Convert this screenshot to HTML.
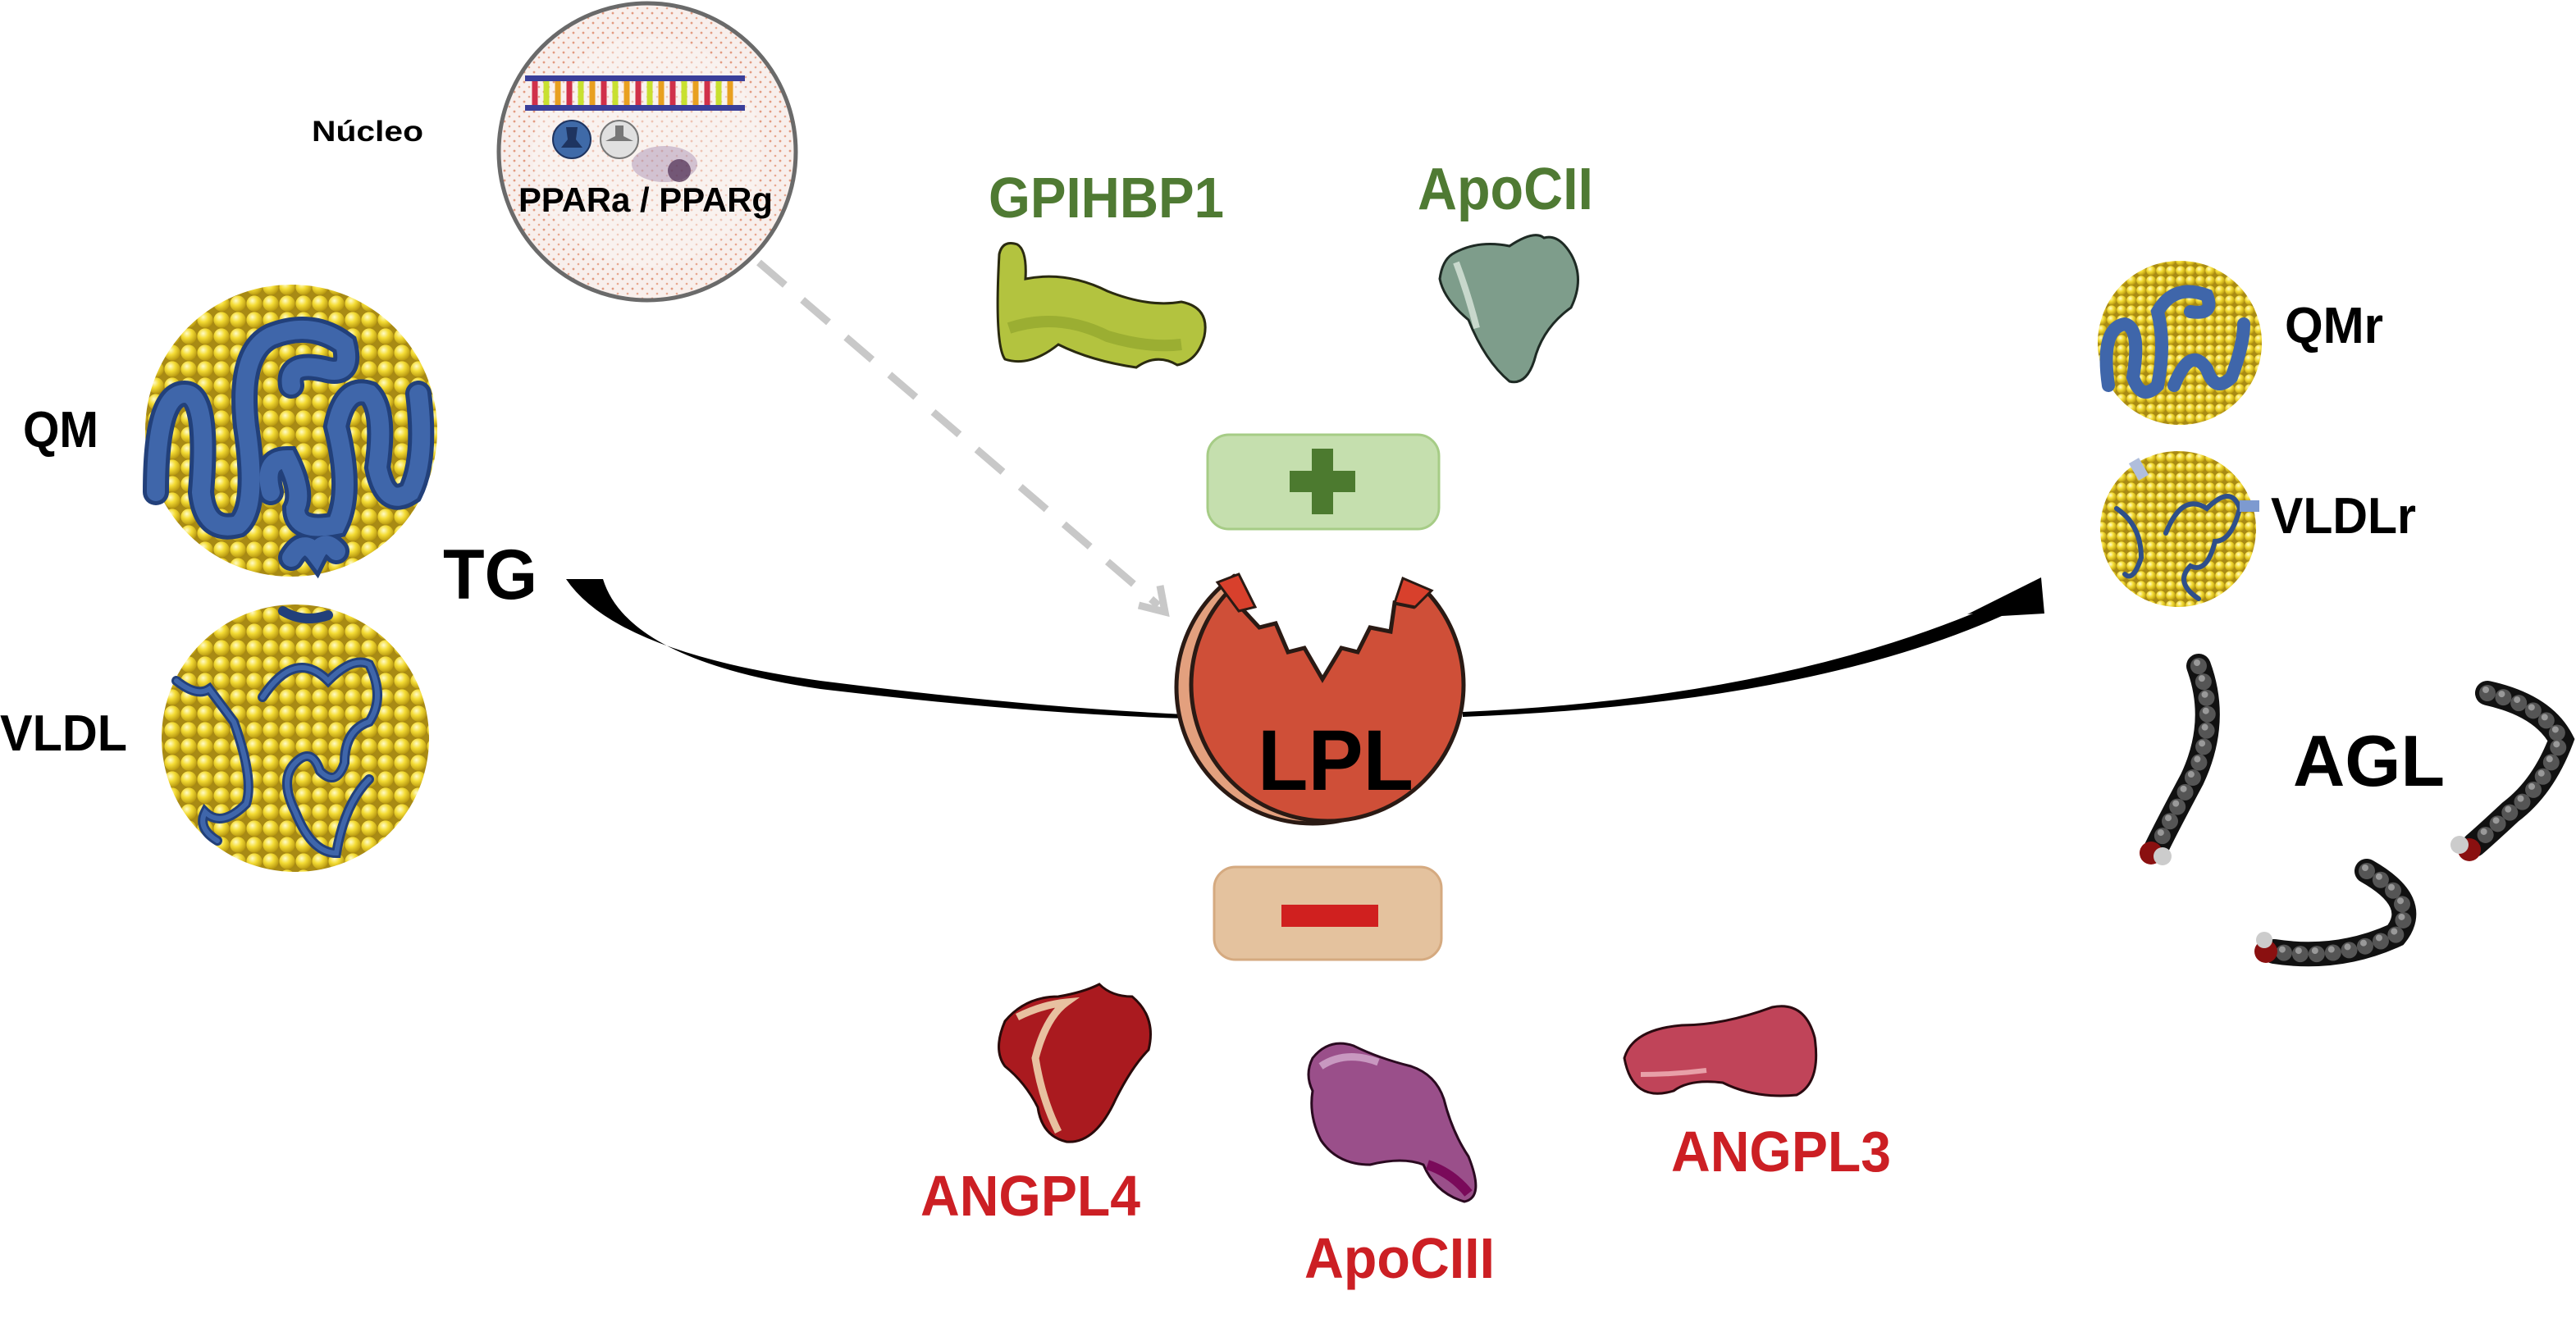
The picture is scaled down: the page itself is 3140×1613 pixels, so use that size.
<!DOCTYPE html>
<html><head><meta charset="utf-8"><style>html,body{margin:0;padding:0;background:#fff}svg{display:block}text{font-family:"Liberation Sans",Arial,sans-serif;font-weight:bold}</style></head>
<body>
<svg width="3140" height="1613" viewBox="0 0 3140 1613" xmlns="http://www.w3.org/2000/svg">
<defs>
<radialGradient id="ball" cx="38%" cy="32%" r="70%"><stop offset="0" stop-color="#fffbc8"/><stop offset="0.45" stop-color="#f4dc34"/><stop offset="1" stop-color="#b89810"/></radialGradient>
<pattern id="bp" width="20" height="20" patternUnits="userSpaceOnUse"><rect width="20" height="20" fill="#a88a14"/><circle cx="10" cy="10" r="9.6" fill="url(#ball)"/></pattern>
<pattern id="bps" width="12" height="12" patternUnits="userSpaceOnUse"><rect width="12" height="12" fill="#a88a14"/><circle cx="6" cy="6" r="5.8" fill="url(#ball)"/></pattern>
<pattern id="speck" width="12" height="12" patternUnits="userSpaceOnUse"><rect width="12" height="12" fill="#f8efec"/><circle cx="3" cy="4" r="1.4" fill="#e29a80"/><circle cx="9" cy="10" r="1.3" fill="#e8a78f"/></pattern>
<radialGradient id="bead" cx="40%" cy="35%" r="70%"><stop offset="0" stop-color="#9a9a9a"/><stop offset="0.5" stop-color="#333"/><stop offset="1" stop-color="#050505"/></radialGradient>
<clipPath id="lplclip"><polygon points="1400,600 1505,700 1510,738 1535,765 1555,760 1570,795 1590,790 1612,828 1635,790 1655,795 1670,765 1695,770 1700,735 1725,740 1800,600 1800,1100 1400,1100"/></clipPath>
</defs>

<circle cx="789" cy="185" r="181" fill="url(#speck)" stroke="#6a6a6a" stroke-width="5"/>
<circle cx="789" cy="185" r="140" fill="#fbf6f4" opacity="0.45"/>
<rect x="640" y="92" width="268" height="7" fill="#3a3f9a"/>
<rect x="640" y="128" width="268" height="7" fill="#3a3f9a"/>
<g stroke-width="7">
<line x1="652" y1="99" x2="652" y2="128" stroke="#d0304a"/><line x1="666" y1="99" x2="666" y2="128" stroke="#c8e030"/><line x1="680" y1="99" x2="680" y2="128" stroke="#e8a020"/><line x1="694" y1="99" x2="694" y2="128" stroke="#d0304a"/><line x1="708" y1="99" x2="708" y2="128" stroke="#c8e030"/><line x1="722" y1="99" x2="722" y2="128" stroke="#e8a020"/><line x1="736" y1="99" x2="736" y2="128" stroke="#d0304a"/><line x1="750" y1="99" x2="750" y2="128" stroke="#c8e030"/><line x1="764" y1="99" x2="764" y2="128" stroke="#e8a020"/><line x1="778" y1="99" x2="778" y2="128" stroke="#d0304a"/><line x1="792" y1="99" x2="792" y2="128" stroke="#c8e030"/><line x1="806" y1="99" x2="806" y2="128" stroke="#e8a020"/><line x1="820" y1="99" x2="820" y2="128" stroke="#d0304a"/><line x1="834" y1="99" x2="834" y2="128" stroke="#c8e030"/><line x1="848" y1="99" x2="848" y2="128" stroke="#e8a020"/><line x1="862" y1="99" x2="862" y2="128" stroke="#d0304a"/><line x1="876" y1="99" x2="876" y2="128" stroke="#c8e030"/><line x1="890" y1="99" x2="890" y2="128" stroke="#e8a020"/>
</g>
<circle cx="697" cy="170" r="23" fill="#3f6aa8" stroke="#1e3460" stroke-width="2"/>
<path d="M690,155 L704,155 L702,170 L710,180 L684,180 L692,170Z" fill="#1e3460"/>
<circle cx="755" cy="170" r="23" fill="#e0e0e0" stroke="#777" stroke-width="2"/>
<path d="M750,153 L760,153 L760,166 L772,172 L738,172 L750,166Z" fill="#777"/>
<ellipse cx="810" cy="200" rx="40" ry="22" fill="#8a6a9a" opacity="0.35"/>
<circle cx="828" cy="208" r="14" fill="#4a2a50" opacity="0.7"/>
<text x="632" y="258" font-size="42" textLength="310" lengthAdjust="spacingAndGlyphs">PPARa / PPARg</text>
<text x="380" y="172" font-size="35" textLength="136" lengthAdjust="spacingAndGlyphs">Núcleo</text>

<line x1="925" y1="320" x2="1412" y2="738" stroke="#c8c8c8" stroke-width="9" stroke-dasharray="42 28"/>
<polyline points="1388,738 1420,746 1414,714" fill="none" stroke="#c8c8c8" stroke-width="9"/>

<circle cx="355" cy="525" r="178" fill="url(#bp)"/>
<g fill="none" stroke="#22407a" stroke-width="32" stroke-linecap="round">
<path d="M190,600 Q190,480 225,480 Q255,480 245,600 Q250,650 290,640 Q315,620 300,520 Q290,430 330,410 Q380,390 420,420 Q430,460 395,450 Q350,440 355,470"/>
<path d="M330,600 Q320,560 350,560 Q370,600 360,620 Q360,650 410,640 Q430,600 410,520 Q420,470 450,480 Q470,500 460,570 Q470,620 500,600 Q520,560 510,480"/>
<path d="M355,680 Q370,655 385,675 Q395,655 410,672"/>
</g>
<g fill="none" stroke="#3f66aa" stroke-width="22" stroke-linecap="round">
<path d="M190,600 Q190,480 225,480 Q255,480 245,600 Q250,650 290,640 Q315,620 300,520 Q290,430 330,410 Q380,390 420,420 Q430,460 395,450 Q350,440 355,470"/>
<path d="M330,600 Q320,560 350,560 Q370,600 360,620 Q360,650 410,640 Q430,600 410,520 Q420,470 450,480 Q470,500 460,570 Q470,620 500,600 Q520,560 510,480"/>
<path d="M355,680 Q370,655 385,675 Q395,655 410,672"/>
</g>

<circle cx="360" cy="900" r="163" fill="url(#bp)"/>
<g fill="none" stroke="#22407a" stroke-width="12" stroke-linecap="round">
<path d="M215,830 Q240,850 255,840 Q270,860 285,880 Q310,950 300,980 Q270,1010 250,990 Q240,1010 265,1025"/>
<path d="M320,850 Q360,790 400,830 Q430,800 450,810 Q470,850 450,880 Q420,890 420,930 Q410,960 390,940 Q380,910 360,930 Q340,950 360,990 Q380,1040 410,1040 Q420,980 450,950"/>
<path d="M345,745 Q370,760 400,750"/>
</g>
<g fill="none" stroke="#3f66aa" stroke-width="6" stroke-linecap="round">
<path d="M215,830 Q240,850 255,840 Q270,860 285,880 Q310,950 300,980 Q270,1010 250,990 Q240,1010 265,1025"/>
<path d="M320,850 Q360,790 400,830 Q430,800 450,810 Q470,850 450,880 Q420,890 420,930 Q410,960 390,940 Q380,910 360,930 Q340,950 360,990 Q380,1040 410,1040 Q420,980 450,950"/>
</g>

<text x="28" y="545" font-size="62" textLength="92" lengthAdjust="spacingAndGlyphs">QM</text>
<text x="0" y="915" font-size="62" textLength="155" lengthAdjust="spacingAndGlyphs">VLDL</text>
<text x="540" y="730" font-size="86" textLength="115" lengthAdjust="spacingAndGlyphs">TG</text>

<path d="M690,706 L735,706 Q765,805 1000,840 Q1250,870 1445,876 L1445,871 Q1250,862 1000,830 Q750,795 690,706Z" fill="#000"/>
<path d="M1783,868 Q2150,852 2405,748 L2398,749 L2488,704 L2492,748 L2440,751 Q2200,858 1783,874Z" fill="#000"/>

<rect x="1472" y="530" width="282" height="115" rx="26" fill="#c5dfae" stroke="#a6cc86" stroke-width="3"/>
<rect x="1572" y="574" width="80" height="26" fill="#4c7a2f"/>
<rect x="1599" y="547" width="26" height="80" fill="#4c7a2f"/>
<rect x="1480" y="1057" width="277" height="113" rx="26" fill="#e4c29e" stroke="#d5aa80" stroke-width="3"/>
<rect x="1562" y="1103" width="118" height="27" fill="#d0201f"/>

<g clip-path="url(#lplclip)">
<circle cx="1600" cy="838" r="166" fill="#e3a07e" stroke="#2a1a14" stroke-width="5"/>
<circle cx="1618" cy="835" r="166" fill="#cf4f38" stroke="#2a1a14" stroke-width="5"/>
</g>
<polyline points="1505,700 1510,738 1535,765 1555,760 1570,795 1590,790 1612,828 1635,790 1655,795 1670,765 1695,770 1700,735 1725,740" fill="none" stroke="#2a1a14" stroke-width="5"/>
<polygon points="1484,710 1510,700 1530,740 1510,745" fill="#d8402c" stroke="#2a1a14" stroke-width="3"/>
<polygon points="1700,735 1710,705 1745,720 1725,740" fill="#d8402c" stroke="#2a1a14" stroke-width="3"/>
<text x="1533" y="963" font-size="105" textLength="190" lengthAdjust="spacingAndGlyphs">LPL</text>

<text x="1205" y="265" font-size="70" fill="#4f7a33" textLength="287" lengthAdjust="spacingAndGlyphs">GPIHBP1</text>
<path d="M1218,310 Q1222,292 1240,298 Q1252,305 1250,340 Q1300,330 1350,355 Q1400,375 1440,368 Q1475,375 1468,410 Q1460,440 1435,445 Q1410,430 1385,448 Q1330,440 1290,420 Q1255,448 1225,438 Q1212,420 1218,310Z" fill="#b3c33f" stroke="#2a2a10" stroke-width="3"/>
<path d="M1230,400 Q1290,380 1350,410 Q1400,425 1440,420" fill="none" stroke="#8aa02a" stroke-width="14" opacity="0.6"/>
<text x="1728" y="255" font-size="72" fill="#4f7a33" textLength="214" lengthAdjust="spacingAndGlyphs">ApoCII</text>
<path d="M1770,310 Q1800,292 1840,300 Q1870,280 1882,290 Q1900,285 1915,310 Q1932,340 1915,375 Q1880,400 1870,440 Q1860,470 1840,465 Q1810,440 1790,390 Q1760,365 1755,340 Q1758,318 1770,310Z" fill="#7e9d8b" stroke="#1e2a24" stroke-width="3"/>
<path d="M1775,320 Q1790,360 1800,400" fill="none" stroke="#c8d8cc" stroke-width="8"/>

<circle cx="2657" cy="418" r="100" fill="url(#bps)"/>
<g fill="none" stroke="#3f66aa" stroke-width="16" stroke-linecap="round">
<path d="M2570,470 Q2560,400 2590,395 Q2610,400 2600,460 Q2610,490 2630,470 Q2640,420 2630,380 Q2650,345 2690,360 Q2700,385 2670,380"/>
<path d="M2650,470 Q2670,420 2690,450 Q2700,480 2720,460 Q2735,420 2735,395"/>
</g>
<circle cx="2655" cy="645" r="95" fill="url(#bps)"/>
<g fill="none" stroke="#2e4f8a" stroke-width="6" stroke-linecap="round">
<path d="M2580,620 Q2610,640 2610,680 Q2600,710 2590,700"/>
<path d="M2640,650 Q2660,600 2690,620 Q2720,590 2730,620 Q2720,660 2700,660 Q2690,700 2670,690 Q2650,710 2680,730"/>
</g>
<rect x="2600" y="560" width="14" height="24" fill="#b0bedc" transform="rotate(-30 2607 572)"/>
<rect x="2730" y="610" width="24" height="14" fill="#7d9ad0"/>
<text x="2785" y="418" font-size="62" textLength="120" lengthAdjust="spacingAndGlyphs">QMr</text>
<text x="2768" y="650" font-size="62" textLength="177" lengthAdjust="spacingAndGlyphs">VLDLr</text>

<g fill="none" stroke-linecap="round">
<path d="M2680,812 Q2705,880 2672,950 Q2640,1010 2628,1035" stroke="#111" stroke-width="30"/>
<path d="M3032,845 Q3100,860 3122,902 Q3100,960 3060,990 Q3030,1018 3016,1030" stroke="#111" stroke-width="30"/>
<path d="M2885,1062 Q2952,1100 2920,1140 Q2850,1172 2772,1160" stroke="#111" stroke-width="30"/>
<g stroke="#555" stroke-width="20" stroke-dasharray="0 20">
<path d="M2680,812 Q2705,880 2672,950 Q2640,1010 2628,1035"/>
<path d="M3032,845 Q3100,860 3122,902 Q3100,960 3060,990 Q3030,1018 3016,1030"/>
<path d="M2885,1062 Q2952,1100 2920,1140 Q2850,1172 2772,1160"/>
</g>
<g stroke="#999" stroke-width="8" stroke-dasharray="0 20">
<path d="M2678,808 Q2703,876 2670,946 Q2638,1006 2626,1031"/>
<path d="M3030,841 Q3098,856 3120,898 Q3098,956 3058,986 Q3028,1014 3014,1026"/>
<path d="M2883,1058 Q2950,1096 2918,1136 Q2848,1168 2770,1156"/>
</g>
</g>
<circle cx="2622" cy="1040" r="14" fill="#8a1010"/><circle cx="2636" cy="1044" r="11" fill="#ccc"/>
<circle cx="3010" cy="1036" r="14" fill="#8a1010"/><circle cx="2998" cy="1030" r="11" fill="#ccc"/>
<circle cx="2762" cy="1160" r="14" fill="#8a1010"/><circle cx="2760" cy="1146" r="10" fill="#ccc"/>
<text x="2795" y="958" font-size="88" textLength="185" lengthAdjust="spacingAndGlyphs">AGL</text>

<path d="M1225,1245 Q1250,1215 1290,1215 Q1320,1210 1340,1200 Q1355,1215 1380,1215 Q1410,1240 1400,1280 Q1380,1300 1360,1340 Q1335,1395 1300,1392 Q1270,1385 1265,1350 Q1250,1320 1225,1300 Q1210,1280 1225,1245Z" fill="#aa1a1f" stroke="#2a0a0a" stroke-width="3"/>
<path d="M1240,1240 Q1270,1225 1300,1222 Q1275,1240 1262,1290 Q1270,1340 1290,1380" fill="none" stroke="#e8c0a0" stroke-width="9"/>
<path d="M1600,1290 Q1620,1265 1650,1275 Q1680,1290 1720,1300 Q1750,1310 1760,1340 Q1770,1380 1790,1410 Q1810,1460 1785,1465 Q1750,1455 1735,1420 Q1710,1410 1670,1420 Q1630,1420 1610,1390 Q1595,1360 1600,1330 Q1590,1310 1600,1290Z" fill="#9a4f8a" stroke="#2a0a20" stroke-width="3"/>
<path d="M1610,1300 Q1640,1280 1680,1295" fill="none" stroke="#c898c0" stroke-width="9"/>
<path d="M1740,1420 Q1770,1430 1790,1455" fill="none" stroke="#7a0a5a" stroke-width="12"/>
<path d="M1980,1290 Q1990,1255 2050,1250 Q2100,1250 2160,1228 Q2200,1220 2212,1265 Q2220,1320 2190,1335 Q2140,1340 2100,1320 Q2060,1315 2040,1330 Q1990,1345 1980,1290Z" fill="#c04459" stroke="#2a0a10" stroke-width="3"/>
<path d="M2000,1310 Q2040,1310 2080,1305" fill="none" stroke="#e8a0a8" stroke-width="6"/>
<text x="1122" y="1482" font-size="70" fill="#cc1f24" textLength="268" lengthAdjust="spacingAndGlyphs">ANGPL4</text>
<text x="1590" y="1558" font-size="70" fill="#cc1f24" textLength="232" lengthAdjust="spacingAndGlyphs">ApoCIII</text>
<text x="2037" y="1428" font-size="70" fill="#cc1f24" textLength="268" lengthAdjust="spacingAndGlyphs">ANGPL3</text>
</svg>
</body></html>
